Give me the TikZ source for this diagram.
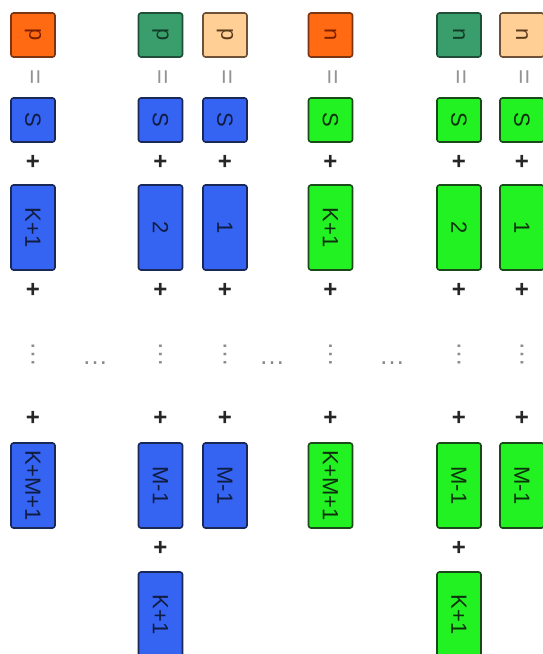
\documentclass[tikz,border=0pt]{standalone}
\usepackage{fontspec}
\setmainfont{Liberation Sans}
\begin{document}
\begin{tikzpicture}[x=1pt,y=-1pt,
  box/.style={draw, line width=1.6pt, rounded corners=2.5pt, minimum width=44pt, inner sep=0pt, font=\fontsize{22}{22}\selectfont, rotate=-90},
  sq/.style={box, minimum height=44pt},
  tall/.style={box, minimum width=85pt, minimum height=44pt},
  orng/.style={fill=orng, draw=orngd, text=orngt},
  teal/.style={fill=tealc, draw=teald, text=tealt},
  pch/.style={fill=pch, draw=pchd, text=pcht},
  blu/.style={fill=blu, draw=blud, text=blut},
  grn/.style={fill=grn, draw=grnd, text=grnt},
  eqs/.style={rotate=-90, text=gray!85, font=\fontsize{26}{26}\selectfont, inner sep=0pt},
  pls/.style={text=black!85, font=\fontsize{24}{24}\selectfont\bfseries, inner sep=0pt},
  vdts/.style={rotate=-90, text=gray!90, font=\fontsize{26}{26}\selectfont, inner sep=0pt},
  hdts/.style={text=gray!90, font=\fontsize{26}{26}\selectfont, inner sep=0pt}
]
\definecolor{orng}{HTML}{FF6A12}\definecolor{orngd}{HTML}{7A3512}\definecolor{orngt}{HTML}{7A1E00}
\definecolor{tealc}{HTML}{3A9E6C}\definecolor{teald}{HTML}{1F4F38}\definecolor{tealt}{HTML}{123A24}
\definecolor{pch}{HTML}{FFCF96}\definecolor{pchd}{HTML}{6E5238}\definecolor{pcht}{HTML}{5A3A1A}
\definecolor{blu}{HTML}{3563F2}\definecolor{blud}{HTML}{1A2858}\definecolor{blut}{HTML}{101C40}
\definecolor{grn}{HTML}{22F222}\definecolor{grnd}{HTML}{1A4A1A}\definecolor{grnt}{HTML}{0E300E}
\useasboundingbox (0,0) rectangle (542,654);
\fill[white] (0,0) rectangle (542,654);
% top row
\node[sq,orng] (t1) at (33,35) {p};
\node[sq,teal] (t2) at (160.5,35) {p};
\node[sq,pch] (t3) at (225,35) {p};
\node[sq,orng] (t4) at (330.5,35) {n};
\node[sq,teal] (t5) at (459,35) {n};
\node[sq,pch] (t6) at (522,35) {n};
% equals, plus signs, vertical dots
\foreach \c/\x in {1/33,2/160.5,3/225,4/330.5,5/459,6/522}{
  \node[eqs] (e\c) at (\x,77) {=};
  \node[pls] (pa\c) at (\x,162) {+};
  \node[pls] (pb\c) at (\x,290) {+};
  \node[vdts] (v\c) at (\x,354) {…};
  \node[pls] (pc\c) at (\x,418) {+};
}
% S row
\node[sq,blu] (s1) at (33,120) {S};
\node[sq,blu] (s2) at (160.5,120) {S};
\node[sq,blu] (s3) at (225,120) {S};
\node[sq,grn] (s4) at (330.5,120) {S};
\node[sq,grn] (s5) at (459,120) {S};
\node[sq,grn] (s6) at (522,120) {S};
% tall row
\node[tall,blu] (k1) at (33,227.5) {K+1};
\node[tall,blu] (k2) at (160.5,227.5) {2};
\node[tall,blu] (k3) at (225,227.5) {1};
\node[tall,grn] (k4) at (330.5,227.5) {K+1};
\node[tall,grn] (k5) at (459,227.5) {2};
\node[tall,grn] (k6) at (522,227.5) {1};
% horizontal dots
\node[hdts] (h1) at (95,363) {…};
\node[hdts] (h2) at (272,363) {…};
\node[hdts] (h3) at (392,363) {…};
% bottom row
\node[tall,blu] (m1) at (33,485.5) {K+M+1};
\node[tall,blu] (m2) at (160.5,485.5) {M-1};
\node[tall,blu] (m3) at (225,485.5) {M-1};
\node[tall,grn] (m4) at (330.5,485.5) {K+M+1};
\node[tall,grn] (m5) at (459,485.5) {M-1};
\node[tall,grn] (m6) at (522,485.5) {M-1};
\node[pls] (pd2) at (160.5,548) {+};
\node[pls] (pd5) at (459,548) {+};
\node[tall,blu] (z2) at (160.5,614.5) {K+1};
\node[tall,grn] (z5) at (459,614.5) {K+1};
\end{tikzpicture}
\end{document}
